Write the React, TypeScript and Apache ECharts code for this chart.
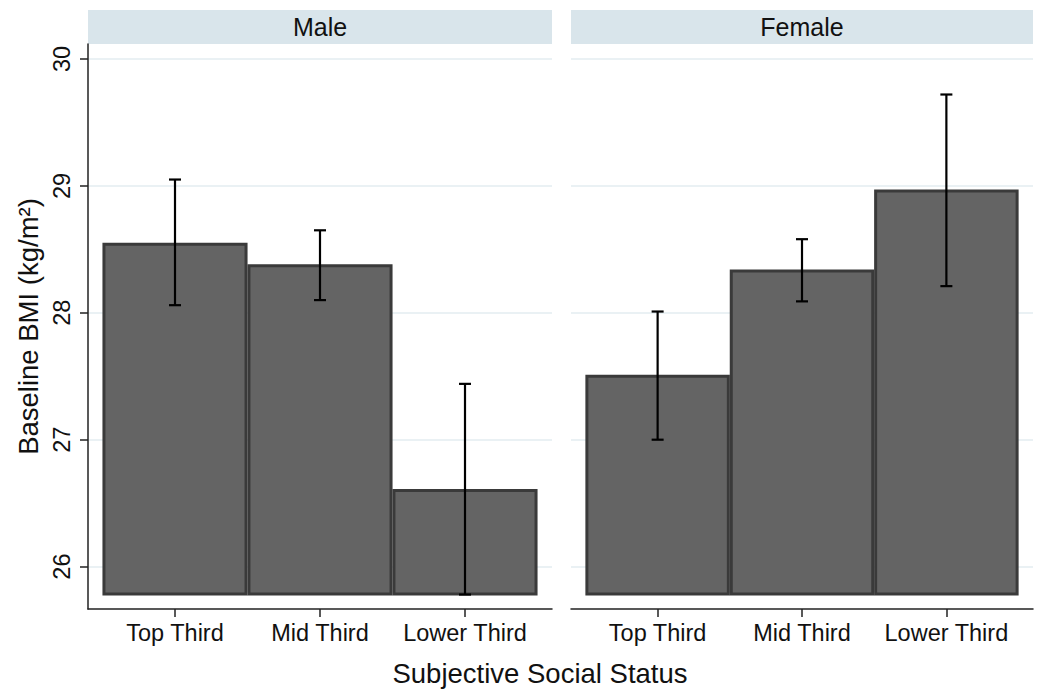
import React, { useEffect, useRef } from "react";
import * as echarts from "echarts";

const categories = ["Top Third", "Mid Third", "Lower Third"];
const panels = ["Male", "Female"];
const maleMean = [28.54, 28.37, 26.6];
const maleLower = [28.06, 28.1, 25.78];
const maleUpper = [29.05, 28.65, 27.44];
const femaleMean = [27.5, 28.33, 28.96];
const femaleLower = [27.0, 28.09, 28.21];
const femaleUpper = [28.01, 28.58, 29.72];
const yTicks = [26, 27, 28, 29, 30];
const barBase = 25.784;
const yMin = 25.666;
const yMax = 30.118;
const xPositions = [1, 2, 3];

const FONT = "'Liberation Sans', Arial, sans-serif";

export default function App() {
  const ref = useRef<HTMLDivElement>(null);
  useEffect(() => {
    if (!ref.current) return;
    const chart = echarts.init(ref.current, null, { renderer: "svg" });

    const barRender = (params: any, api: any) => {
      const x = api.value(0);
      const v = api.value(1);
      const p1 = api.coord([x - 0.49, v]);
      const p0 = api.coord([x + 0.49, barBase]);
      return {
        type: "rect",
        shape: { x: p1[0], y: p1[1], width: p0[0] - p1[0], height: p0[1] - p1[1] },
        style: { fill: "#646464", stroke: "#3a3a3a", lineWidth: 3 },
      };
    };
    const errRender = (params: any, api: any) => {
      const x = api.value(0);
      const lo = api.coord([x, api.value(1)]);
      const hi = api.coord([x, api.value(2)]);
      const cap = 6;
      const st = { stroke: "#000", lineWidth: 2.2 };
      return {
        type: "group",
        children: [
          { type: "line", shape: { x1: lo[0], y1: lo[1], x2: hi[0], y2: hi[1] }, style: st },
          { type: "line", shape: { x1: lo[0] - cap, y1: lo[1], x2: lo[0] + cap, y2: lo[1] }, style: st },
          { type: "line", shape: { x1: hi[0] - cap, y1: hi[1], x2: hi[0] + cap, y2: hi[1] }, style: st },
        ],
      };
    };

    const xAxisBase = (gridIndex: number) => ({
      type: "value",
      gridIndex,
      min: 0.4,
      max: 3.6,
      axisLine: { show: true, lineStyle: { color: "#222", width: 1.5 } },
      axisTick: { show: true, customValues: xPositions, length: 8, lineStyle: { color: "#222", width: 1.5 } },
      axisLabel: {
        customValues: xPositions,
        formatter: (v: number) => categories[Math.round(v) - 1] ?? "",
        fontSize: 23.5,
        fontFamily: FONT,
        color: "#111",
        margin: 12,
      },
      splitLine: { show: false },
    });

    const gridLineStyle = { color: "#e3ecf0", width: 1.5 };

    const option: any = {
      animation: false,
      backgroundColor: "#fff",
      grid: [
        { left: 88, top: 44, width: 464, height: 565 },
        { left: 571, top: 44, width: 462, height: 565 },
      ],
      xAxis: [xAxisBase(0), xAxisBase(1)],
      yAxis: [
        {
          type: "value",
          gridIndex: 0,
          min: yMin,
          max: yMax,
          name: "Baseline BMI (kg/m²)",
          nameLocation: "middle",
          nameGap: 46,
          nameTextStyle: { fontSize: 27.5, fontFamily: FONT, color: "#111" },
          axisLine: { show: true, lineStyle: { color: "#222", width: 1.5 } },
          axisTick: { show: true, customValues: yTicks, length: 8, lineStyle: { color: "#222", width: 1.5 } },
          axisLabel: {
            customValues: yTicks,
            rotate: 90,
            fontSize: 23.5,
            fontFamily: FONT,
            color: "#111",
            margin: 14,
          },
          splitLine: { show: true, lineStyle: gridLineStyle },
        },
        {
          type: "value",
          gridIndex: 1,
          min: yMin,
          max: yMax,
          axisLine: { show: false },
          axisTick: { show: false, customValues: yTicks },
          axisLabel: { show: false, customValues: yTicks },
          splitLine: { show: true, lineStyle: gridLineStyle },
        },
      ],
      series: [
        {
          type: "custom",
          xAxisIndex: 0,
          yAxisIndex: 0,
          renderItem: barRender,
          encode: { x: 0, y: 1 },
          data: xPositions.map((x, i) => [x, maleMean[i]]),
          z: 2,
        },
        {
          type: "custom",
          xAxisIndex: 0,
          yAxisIndex: 0,
          renderItem: errRender,
          encode: { x: 0, y: [1, 2] },
          data: xPositions.map((x, i) => [x, maleLower[i], maleUpper[i]]),
          z: 3,
        },
        {
          type: "custom",
          xAxisIndex: 1,
          yAxisIndex: 1,
          renderItem: barRender,
          encode: { x: 0, y: 1 },
          data: xPositions.map((x, i) => [x, femaleMean[i]]),
          z: 2,
        },
        {
          type: "custom",
          xAxisIndex: 1,
          yAxisIndex: 1,
          renderItem: errRender,
          encode: { x: 0, y: [1, 2] },
          data: xPositions.map((x, i) => [x, femaleLower[i], femaleUpper[i]]),
          z: 3,
        },
      ],
      graphic: [
        { type: "rect", left: 88, top: 10, shape: { width: 464, height: 34 }, style: { fill: "#d9e5eb" }, silent: true },
        { type: "rect", left: 571, top: 10, shape: { width: 462, height: 34 }, style: { fill: "#d9e5eb" }, silent: true },
        {
          type: "text",
          x: 320,
          y: 27,
          style: { text: panels[0], font: `25px ${FONT}`, fill: "#111", align: "center", verticalAlign: "middle" },
        },
        {
          type: "text",
          x: 802,
          y: 27,
          style: { text: panels[1], font: `25px ${FONT}`, fill: "#111", align: "center", verticalAlign: "middle" },
        },
        {
          type: "text",
          x: 540,
          y: 673,
          style: {
            text: "Subjective Social Status",
            font: `27.5px ${FONT}`,
            fill: "#111",
            align: "center",
            verticalAlign: "middle",
          },
        },
      ],
    };
    chart.setOption(option);
    return () => chart.dispose();
  }, []);
  return (
    <div
      ref={ref}
      style={{ position: "fixed", left: 0, top: 0, width: 1045, height: 689, background: "#fff" }}
    />
  );
}
